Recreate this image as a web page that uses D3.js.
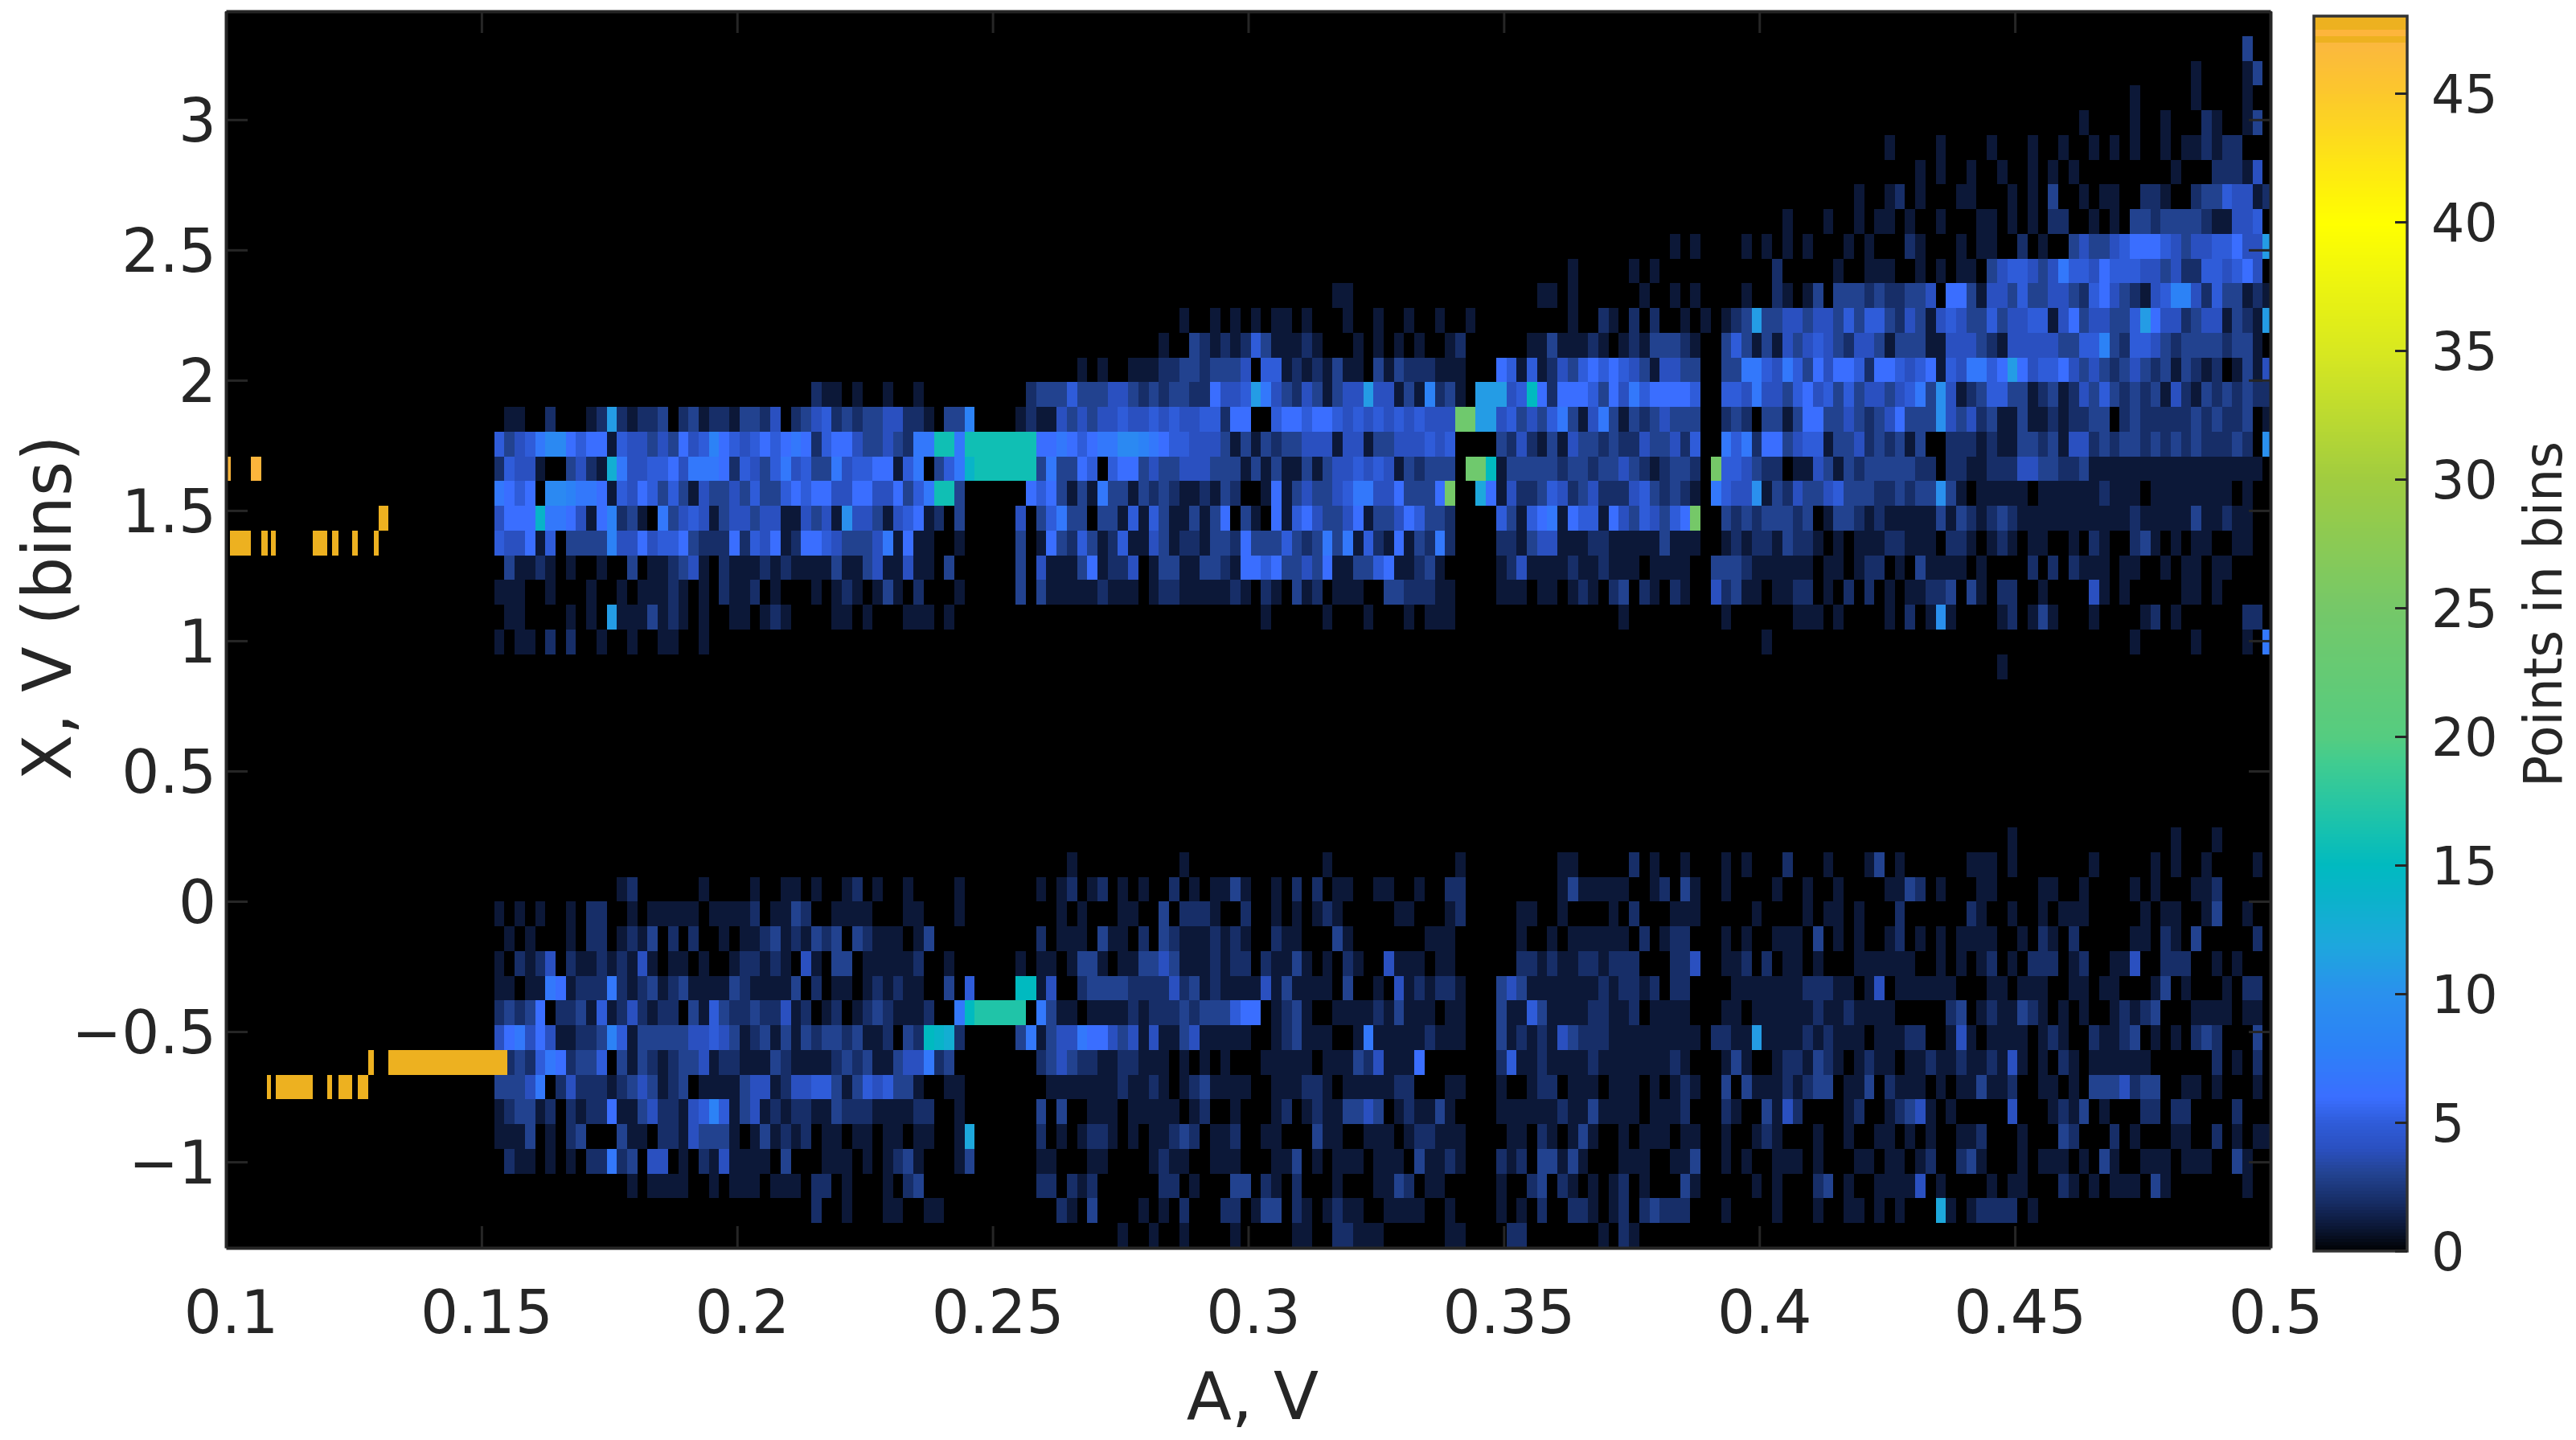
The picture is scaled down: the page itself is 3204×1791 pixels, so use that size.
<!DOCTYPE html>
<html>
<head>
<meta charset="utf-8">
<script src="https://cdn.jsdelivr.net/npm/d3@7"></script>
<style>
  body { margin: 0; background: #fff; }
  text { font-family: "DejaVu Sans", sans-serif; fill: #262626; }
</style>
</head>
<body>
<div id="chart"></div>
<script>
// Tick labels
let x_ticks = [0.1, 0.15, 0.2, 0.25, 0.3, 0.35, 0.4, 0.45, 0.5];
let y_ticks = [-1, -0.5, 0, 0.5, 1, 1.5, 2, 2.5, 3];
let cb_ticks = [0, 5, 10, 15, 20, 25, 30, 35, 40, 45];

// Colormap
let cm_values = [0, 1, 2, 3, 4, 5, 6, 8, 10, 12, 14, 15, 17, 19, 20, 25, 30, 35, 40, 45, 46.95, 47.03, 47.25, 47.26, 47.44, 47.45, 48];
let cm_colors = ["#000000", "#0c1838", "#172e68", "#22428f", "#2a50c0", "#2f5cd9", "#3a6eff", "#2c82f6", "#2a90ee", "#1da8dc", "#08b4c8", "#00bac0", "#20c4a8", "#40cc90", "#55cc80", "#75c868", "#a0cc40", "#d8e820", "#ffff00", "#fcc82c", "#fbb83e", "#edb120", "#edb120", "#fdb53c", "#fdb53c", "#edb120", "#edb120"];

// Histogram bins: 50 rows from the top, columns start at A = 0.1525 and are 0.002 V wide.
// One character per cell in base 36, "." is an empty bin.
let a_start = 0.1525;
let a_step = 0.002;
let skip = n => ".".repeat(n * 10);
let heat_rows = [
  "",
  skip(17) + ".3..",
  skip(16) + "......1... .13.",
  skip(16) + "1.....1... .1",
  skip(15) + ".....1.... 1..1...21. .13",
  skip(13) + "......1... .1....1... 1..1..1.1. 1..1.11212 2",
  skip(13) + ".........1 .1..1..1.. 1.1.1..... ....1...22 214.",
  skip(13) + "...1..12.1 ...11...1. 1.3..1.11. .221..2335 4412",
  skip(12) + "......1... 1..1.11.1. .1...11.1. 1.22..1.1. 3323333211 445.",
  skip(11) + ".....1.1.. ..1.1.1.1. ..1.1...21 ...1.11..2 .1..343345 6665434455 644b",
  skip(10) + ".....1.... .1.1...... .....2.... .1..111..1 .1.11.3455 4347554655 5443422554 564.",
  skip(8) + "..11...... .......... ..11.1.... ..1..1.1.. ..1..21.13 .333232233 4.66314435 3344325643 2145884253 3121",
  skip(6) + ".......1.. 1.1.1.11.1 ...1..1..1 ..1..1.... .....1..21 .2.2..1.1. 123b334434 4353553243 1454335344 5514634433 5b64423441 321b",
  skip(6) + ".....1..32 1212531112 1...1.1.1. 1..12..... .11311121. 12133321.. 3531314345 4324431333 1144432144 4443355832 5543233332 331.",
  skip(5) + ".......1.1 ..11122332 3334.55121 21311.3132 22111...65 1512435656 54314433.. 3377547536 4665266545 61547756b6 4556434323 432313212. 1314",
  skip(3) + ".211.1..1. .1........ ..23335333 4432323322 6445b74324 31344b4413 18231.bbb4 5f62666536 47566665.. 5547443564 5353443457 3a41235533 1231243532 3231421323 2322",
  ".11..2...1 2b21223.23 12213324.2 3452323344 221.338... .121143434 4544545445 5266..5665 6654545454 5444oobb45 3435731473 13234333.. 232.331366 3343234633 3a43423113 11212233.2 3222223232 23.1",
  "5345799656 6154434364 5865456567 6256643343 277gg7gggg ggg6676567 7998765544 4313132334 4414413344 4545....32 4213143323 22433425.. 7572663455 1334232313 ..22212113 3231442323 3232323222 32.a",
  "25441..342 1d74455647 7762543574 5337455661 57.357eggg ggg373365. 5663433444 3331313113 1344545413 2333.oof13 3333233233 43212332.p 554322.114 3132333332 2.22112224 4332231111 1111111111 111.",
  "7656.99877 6154653531 4334353356 5664466446 357gg3.... ..65631317 3313232112 132..16134 3345774463 336p..c614 2235423422 24532321.7 544a132433 4533322323 3a31.11111 .111111211 1.11111111 .1..",
  "4666e77641 68231.7345 4134434411 4341a44314 5612.3.... .4.35733.3 3151531131 36.31.6156 4334613346 5332....53 1567165516 4354356p.. 323233323. 1332121111 1313212321 1111111111 2111113112 11..",
  "544615.333 3844645563 2226254612 6654333471 611..1.... .3.1632531 2511431221 3326333532 3737152161 3272....22 1344111221 11113111.. 1212213221 .1.1112211 1.221.121. 11..1.21.. 231.1.11.. 11",
  ".31121.1.. 1..3.11234 1.21112121 1113113411 411.3..... .3.4111361 224.133113 3216656334 3611335611 231.....12 4111121121 11.1111..3 332111111. 11.122.1.3 1111.1.... 2.2.2111.1 1..1.11.11",
  "111..1...1 ..1.11121. 1.2112.1.. .1.121.131 .2...1.... .3.3111112 111.122111 1121.21.31 2.111..332 2211....11 1.11.121.2 3.21.21..4 2311.1122. 1.2.2.1.11 223.31.22. .1....41.1 .....11.1.",
  ".11....1.1 .b1113121. 1..11.121. ...11.1... 111.1..... .......... .......... .....1.... .1...1...1 .111...... .......... 1......... 1......111 .1....1.2. 1a1....12. 131...1... .12.1..... .22.",
  "1.11.2.2.. 1..1..11.. 1......... " + skip(9) + "....1..... " + skip(3) + "1.....1... .1.7",
  skip(14) + ".......1",
  "", "", "", "", "", "",
  skip(14) + "........1. .......... ....1...1.",
  skip(5) + "......1... .......1.. .......... .1........ ....1..... ....11.... .2.1..1... 1.1...2... 1...13.1.. ....111.1. ......1... ..1.1..1.. ..1.",
  ".......... ..12...... 1....1..11 .1..12.1.. 1....1.... ...1.12.12 .1.1..2.1. 1131..1.2. 2.11..11.. 1..22..... ....131111 1..12.31.. 1....1..1. .1....1132 .1...11... .11..1.... 1.1...112.",
  "1.1.1..1.2 2..1.11111 .11112.113 2..1111... 11...1.... .....1.1.. .11..3.222 1..2..1.1. 121.....11 ...12..... 11..1....1 .2...111.. ...1....1. 11.1...2.. ....21..1. .1.111.... .1.11..13. .1",
  ".1.1...1.2 2.1213.2.2 ..1.112312 1323.32111 .13....... ...2.111.3 11.2.32111 2121..211. ..31...... .111...... 1..1.11111 1.2.122... 1.1..111.3 .1.1..12.1 .1.1111..1 .21.2..... 11.21.3... ..2.",
  "1.2124.211 212141.11. 1..122121. 41.33.1111 12..1..... .1.11.1331 .113343111 2122.21131 .1.21..411 1.11...... 2212112212 22...224.. 112.2.11.1 ...111111. .1.1.12.1. 222.12..11 4..222..1. 1...",
  "11.1176122 2721231231 1113211113 .2.11.1212 11..3.5... .ff14..233 3322224231 2111141311 11.3..1.41 21221...34 3111111121 2212.22... .111111122 211.14.111 111...11.1 11..11.11. ..13.1...1 .22.",
  "23236.2231 51242122.3 1532232241 2.12.12321 112..7fhhh hh.7311.11 1121222323 33566.1231 ..11112131 11.11...31 1531111221 12.1111... 11.1111112 1121111... ..23.12113 21.1.1..12 123...1111 .11.",
  "4674641122 3851333334 4543123131 323323112. 32fed2.... .371344766 4341411341 1111..1231 11..171111 12111...31 2121432221 11111111.2 211b111121 2111.11122 ..141.1111 .121..2112 3.1.1.232. ..3.",
  ".232576233 5.31321233 4122111321 1112323113 44723..... ...2343221 122111.1.1 .1...11111 .111324111 6.......25 1121111211 1111121... 131..12213 21.1211.11 2112112141 .1.21.1111 11......2. 1.2.",
  "33347.2422 212343123. 1111344124 4553135453 31..11.... ....111111 121121.123 1111..1112 21.1111122 ...11...1. .122.111.1 11.1.121.. 3.31112123 3.113.2111 .1.113112. .11.1.3334 233..11.1. ..1.",
  "123312.212 2611342214 5851341212 2113222111 122..1.... ...3.3..11 1.11111.12 ..1...12.1 2113343.12 1131....11 1111211311 11.1112... 21..3142.. ..12..1234 1.1.....4. ..1213.1.. .22.22.... 2...",
  "1113.1.23. ..311.2214 3331.13121 2.11.11.11 .11..1c... ...2.1.122 1.1.11232. 112..11... 311..111.1 22111....1 1.21.131.. 1.111.11.. 1..121...1 ..1..11.1. 1..112...1 ...32...2. 1...11..2. 1.11",
  ".211.1.1.2 2723.44.1. 2141111.3. ..111.1.12 31...13... ...11...11 ....1211.. 111...113. 1.111.111. 31121...21 2.33131... 111..113.. 1.1..111.1 ...11.11.1 2..231...1 .111.1.31. .111.111.. 31",
  skip(1) + "...1.1111. .1.111.111 .22.1...1. 23........ ...22.212. .....22.1. ..33.21.2. ..1...1132 .11.....1. .23.21.1.1 2.1...31.. ...1.1...2 3.1..11114 .1....1.11 ...21.1.11 1.31...... .1",
  skip(3) + ".2..1...11 ..11...... .....21.3. ...1.1.2.. .22.133.21 .1211..111 1..1....1. 1.2..221.1 2.23222... 1....1...1 ..11.1.1.. .c1.12222. 1.........",
  skip(6) + ".1..1..1.. ..1.....11 ..22111... ...11....2 2.......1. 21"
];

// The saturated bins left of 0.155 V, narrower than the grid
let hot_row = [18, 18, 20, 21, 21, 21, 21, 21, 21, 21, 42, 42, 43, 43, 43, 43, 43];
let hot_from = [0.1002, 0.1049, 0.1299, 0.1008, 0.1069, 0.1088, 0.1170, 0.1208, 0.1247, 0.1289, 0.1278, 0.1318, 0.1080, 0.1097, 0.1198, 0.1220, 0.1258];
let hot_to = [0.1009, 0.1069, 0.1318, 0.1049, 0.1082, 0.1097, 0.1198, 0.1220, 0.1258, 0.1299, 0.1290, 0.1550, 0.1088, 0.1170, 0.1208, 0.1247, 0.1278];
let hot_val = [47.35, 47.35, 48, 48, 48, 48, 48, 48, 48, 48, 48, 48, 48, 48, 48, 48, 48];

let width = 3204;
let height = 1791;
let plot = {left: 281, right: 2824, top: 14, bottom: 1552};
let cbar = {left: 2878, right: 2994, top: 20, bottom: 1556};
let y_min = -1.33;
let y_max = 3.416;
let dark = "#262626";

let svg = d3.select("#chart")
            .append("svg")
            .attr("width", width)
            .attr("height", height)
            .style("display", "block");

let x = d3.scaleLinear().domain([0.1, 0.5]).range([plot.left, plot.right]);
let y = d3.scaleLinear().domain([y_min, y_max]).range([plot.bottom, plot.top]);
let color = d3.scaleLinear().domain(cm_values).range(cm_colors);
let cb_y = d3.scaleLinear().domain([0, 48]).range([cbar.bottom, cbar.top]);

let bin_h = (y_max - y_min) / 50;

let cells = [];
heat_rows.forEach(function(row, r) {
    row.replace(/ /g, "").split("").forEach(function(ch, c) {
        let v = parseInt(ch, 36);
        if (v > 0) {
            cells.push({a0: a_start + c * a_step, a1: a_start + (c + 1) * a_step, r: r, v: v});
        }
    });
});
hot_row.forEach(function(r, i) {
    cells.push({a0: hot_from[i], a1: hot_to[i], r: r, v: hot_val[i]});
});

svg.append("clipPath")
   .attr("id", "plot-clip")
   .append("rect")
   .attr("x", plot.left)
   .attr("y", plot.top)
   .attr("width", plot.right - plot.left)
   .attr("height", plot.bottom - plot.top);

svg.append("rect")
   .attr("x", plot.left)
   .attr("y", plot.top)
   .attr("width", plot.right - plot.left)
   .attr("height", plot.bottom - plot.top)
   .style("fill", "#000");

svg.append("g")
   .attr("clip-path", "url(#plot-clip)")
   .selectAll("rect")
   .data(cells)
   .join("rect")
   .attr("x", d => x(d.a0))
   .attr("y", d => y(y_max - d.r * bin_h))
   .attr("width", d => x(d.a1) - x(d.a0))
   .attr("height", d => y(y_max - (d.r + 1) * bin_h) - y(y_max - d.r * bin_h))
   .attr("shape-rendering", "crispEdges")
   .style("fill", d => color(d.v));

// Axes, ticks point inward on all four sides
function style_axis(g) {
    g.selectAll("line").style("stroke", dark).style("stroke-width", 3);
    g.selectAll("path").style("stroke", dark).style("stroke-width", 4);
    g.selectAll("text").style("font-size", "74px").style("fill", dark);
}

svg.append("g")
   .attr("transform", "translate(0," + plot.bottom + ")")
   .call(d3.axisBottom(x).tickValues(x_ticks).tickFormat(d3.format("~g")).tickSizeInner(-27).tickSizeOuter(0).tickPadding(53))
   .call(style_axis)
   .call(g => g.selectAll("text").attr("dx", 6));

svg.append("g")
   .attr("transform", "translate(0," + plot.top + ")")
   .call(d3.axisTop(x).tickValues(x_ticks).tickFormat("").tickSizeInner(-27).tickSizeOuter(0))
   .call(style_axis);

svg.append("g")
   .attr("transform", "translate(" + plot.left + ",0)")
   .call(d3.axisLeft(y).tickValues(y_ticks).tickFormat(d3.format("~g")).tickSizeInner(-27).tickSizeOuter(0).tickPadding(12))
   .call(style_axis)
   .call(g => g.selectAll("text").attr("transform", "translate(0,3)"));

svg.append("g")
   .attr("transform", "translate(" + plot.right + ",0)")
   .call(d3.axisRight(y).tickValues(y_ticks).tickFormat("").tickSizeInner(-27).tickSizeOuter(0))
   .call(style_axis);

svg.append("text")
   .attr("x", 1558)
   .attr("y", 1765)
   .attr("text-anchor", "middle")
   .style("font-size", "82px")
   .text("A, V");

svg.append("text")
   .attr("transform", "translate(88,756) rotate(-90)")
   .attr("text-anchor", "middle")
   .style("font-size", "83px")
   .text("X, V (bins)");

// Colorbar
svg.append("g")
   .selectAll("rect")
   .data(d3.range(0, 48, 0.125))
   .join("rect")
   .attr("x", cbar.left)
   .attr("y", d => cb_y(d + 0.125))
   .attr("width", cbar.right - cbar.left)
   .attr("height", d => cb_y(d) - cb_y(d + 0.125) + 0.5)
   .attr("shape-rendering", "crispEdges")
   .style("fill", d => color(d + 0.0625));

svg.append("rect")
   .attr("x", cbar.left)
   .attr("y", cbar.top)
   .attr("width", cbar.right - cbar.left)
   .attr("height", cbar.bottom - cbar.top)
   .style("fill", "none")
   .style("stroke", "#333")
   .style("stroke-width", 3.5);

svg.append("g")
   .attr("transform", "translate(" + cbar.right + ",0)")
   .call(d3.axisRight(cb_y).tickValues(cb_ticks).tickSizeInner(-15).tickSizeOuter(0).tickPadding(30))
   .call(g => g.select(".domain").remove())
   .call(g => g.selectAll("line").style("stroke", dark).style("stroke-width", 3))
   .call(g => g.selectAll("text").style("font-size", "65px").style("fill", dark).attr("transform", "translate(0,3)"));

svg.append("text")
   .attr("transform", "translate(3186,764) rotate(-90)")
   .attr("text-anchor", "middle")
   .style("font-size", "65px")
   .text("Points in bins");
</script>
</body>
</html>
